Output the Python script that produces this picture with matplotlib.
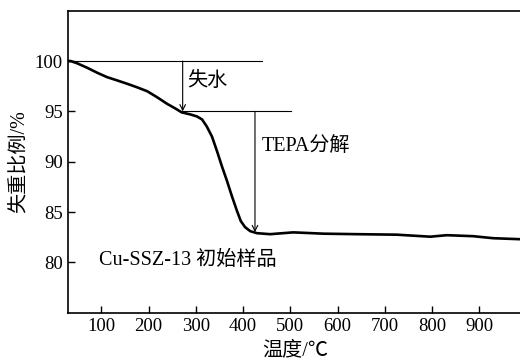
import matplotlib
matplotlib.use("Agg")
import matplotlib.pyplot as plt

plt.rcParams['font.family'] = ['Liberation Serif', 'Noto Sans CJK SC']
plt.rcParams['axes.unicode_minus'] = False

# TG curve of the as-made sample
temp = [30, 35, 49, 70, 91, 112, 133, 154, 175, 197, 218, 239, 256, 270, 288,
        302, 313, 323, 334, 345, 355, 366, 376, 387, 395, 404, 415, 429, 457,
        506, 570, 641, 725, 796, 831, 887, 929, 986]
mass = [100.0, 100.0, 99.77, 99.33, 98.84, 98.4, 98.08, 97.75, 97.4, 97.0,
        96.4, 95.75, 95.3, 94.9, 94.7, 94.5, 94.2, 93.5, 92.5, 91.0, 89.55,
        88.06, 86.6, 85.1, 84.1, 83.5, 83.1, 82.9, 82.8, 82.98, 82.85, 82.8,
        82.75, 82.55, 82.7, 82.6, 82.4, 82.3]

xticks = [100, 200, 300, 400, 500, 600, 700, 800, 900]
yticks = [80, 85, 90, 95, 100]

# loss steps: (x of arrow, start level, end level)
water_x, water_top, water_bot = 272, 100, 95
tepa_x, tepa_top, tepa_bot = 425, 95, 83

fig = plt.figure(figsize=(5.2, 3.6), dpi=100)
ax = fig.add_axes([68.3 / 520, 47.3 / 360, (522 - 68.3) / 520, 302 / 360])

ax.plot(temp, mass, color='black', lw=1.9, solid_capstyle='round',
        solid_joinstyle='round')

# reference levels
ax.plot([30, 440], [100, 100], color='black', lw=0.8)
ax.plot([270, 501], [95, 95], color='black', lw=0.8)

ax.annotate('', xy=(water_x, water_bot), xytext=(water_x, water_top),
            arrowprops=dict(arrowstyle='->', lw=0.8, color='black',
                            shrinkA=0, shrinkB=0, mutation_scale=10))
ax.annotate('', xy=(tepa_x, tepa_bot), xytext=(tepa_x, tepa_top),
            arrowprops=dict(arrowstyle='->', lw=0.8, color='black',
                            shrinkA=0, shrinkB=0, mutation_scale=10))

ax.text(281, 98.0, '失水', fontsize=14.5, va='center', ha='left')
ax.text(440, 91.5, 'TEPA分解', fontsize=14.5, va='center', ha='left')
ax.text(94, 80.2, 'Cu-SSZ-13 初始样品', fontsize=14.5, va='center', ha='left')

ax.set_xlim(30, 990)
ax.set_ylim(75, 105)
ax.set_xticks(xticks)
ax.set_yticks(yticks)
ax.tick_params(direction='in', length=5, width=1, labelsize=13.5, pad=4)
for s in ax.spines.values():
    s.set_linewidth(1.2)
ax.spines['right'].set_visible(False)

ax.set_xlabel('温度/℃', fontsize=14.5, labelpad=4)
ax.set_ylabel('失重比例/%', fontsize=14.5, labelpad=4)

fig.savefig('out.png', dpi=100)
